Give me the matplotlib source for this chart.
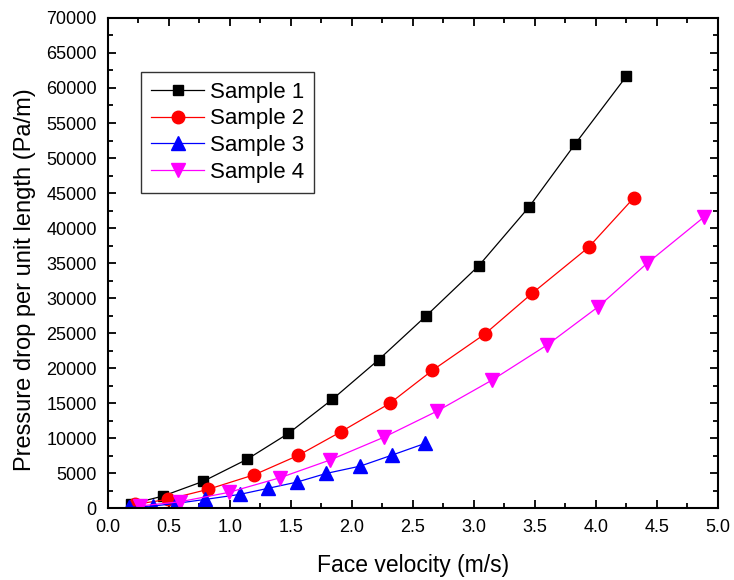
import matplotlib
matplotlib.use("Agg")
import matplotlib.pyplot as plt
from matplotlib.ticker import MultipleLocator

plt.rcParams['font.family'] = ['Liberation Sans', 'DejaVu Sans']

# Face velocity (m/s) and pressure drop per unit length (Pa/m) for each sample
v1 = [0.19, 0.45, 0.78, 1.14, 1.48, 1.84, 2.22, 2.61, 3.04, 3.45, 3.83, 4.25]
dp1 = [570, 1710, 3810, 6960, 10670, 15530, 21200, 27470, 34610, 42960, 52000, 61670]

v2 = [0.22, 0.49, 0.82, 1.20, 1.56, 1.91, 2.31, 2.66, 3.09, 3.48, 3.94, 4.31]
dp2 = [520, 1240, 2670, 4760, 7520, 10900, 14950, 19670, 24860, 30710, 37240, 44290]

v3 = [0.17, 0.37, 0.56, 0.80, 1.08, 1.31, 1.55, 1.79, 2.07, 2.33, 2.60]
dp3 = [100, 290, 670, 1240, 1950, 2810, 3710, 4950, 6000, 7570, 9240]

v4 = [0.26, 0.59, 0.99, 1.41, 1.82, 2.26, 2.70, 3.15, 3.60, 4.02, 4.42, 4.89]
dp4 = [300, 900, 2240, 4330, 6860, 10100, 13860, 18290, 23290, 28760, 34960, 41620]

labels = ["Sample 1", "Sample 2", "Sample 3", "Sample 4"]

fig = plt.figure(figsize=(7.34, 5.80), dpi=100)
ax = fig.add_axes([0.147, 0.124, 0.831, 0.845])

ax.plot(v1, dp1, color='black', marker='s', ms=7.5, lw=0.9, label=labels[0])
ax.plot(v2, dp2, color='red', marker='o', ms=9, lw=0.9, label=labels[1])
ax.plot(v3, dp3, color='blue', marker='^', ms=9.5, lw=0.9, label=labels[2])
ax.plot(v4, dp4, color='magenta', marker='v', ms=9.5, lw=0.9, label=labels[3])

ax.set_xlim(0, 5.0)
ax.set_ylim(0, 70000)
ax.xaxis.set_major_locator(MultipleLocator(0.5))
ax.xaxis.set_minor_locator(MultipleLocator(0.25))
ax.yaxis.set_major_locator(MultipleLocator(5000))
ax.yaxis.set_minor_locator(MultipleLocator(2500))
ax.xaxis.set_major_formatter(plt.FuncFormatter(lambda x, p: f"{x:.1f}"))

ax.tick_params(which='both', direction='in', top=True, right=True, width=1.3)
ax.tick_params(which='major', length=6, labelsize=13, pad=8)
ax.tick_params(which='minor', length=3.5)
for s in ax.spines.values():
    s.set_linewidth(1.5)

ax.set_xlabel("Face velocity (m/s)", fontsize=16.5, labelpad=13)
ax.set_ylabel("Pressure drop per unit length (Pa/m)", fontsize=17)
ax.yaxis.set_label_coords(-0.118, 0.467)

leg = ax.legend(loc='upper left', bbox_to_anchor=(0.054, 0.89), borderaxespad=0,
                fontsize=16, frameon=True, fancybox=False, edgecolor='black',
                handlelength=2.4, borderpad=0.45, labelspacing=0.25,
                handletextpad=0.25)
leg.get_frame().set_linewidth(1.0)

fig.savefig("out.png", dpi=100)
